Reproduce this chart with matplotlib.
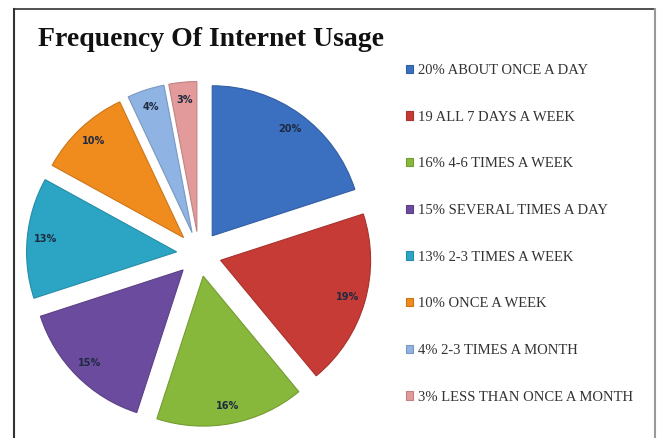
import matplotlib.pyplot as plt
from matplotlib.lines import Line2D
import matplotlib.colors as mcolors

# usage shares (percent), clockwise from 12 o'clock
shares = [20, 19, 16, 15, 13, 10, 4, 3]
legend_labels = [
    "20% ABOUT ONCE A DAY",
    "19 ALL 7 DAYS A WEEK",
    "16% 4-6 TIMES A WEEK",
    "15% SEVERAL TIMES A DAY",
    "13% 2-3 TIMES A WEEK",
    "10% ONCE A WEEK",
    "4% 2-3 TIMES A MONTH",
    "3% LESS THAN ONCE A MONTH",
]
colors = ['#3b6fbf', '#c63b35', '#88b83b', '#6b4b9d',
          '#2ca5c4', '#f08b1e', '#8fb3e2', '#e29a9a']

fig = plt.figure(figsize=(6.58, 4.38), dpi=100)
W, H = 658, 438

# frame around the chart
fig.add_artist(Line2D([14 / W, 14 / W], [0, 1 - 9 / H], color='#333333', lw=1.5))
fig.add_artist(Line2D([14 / W, 655 / W], [1 - 9 / H, 1 - 9 / H], color='#333333', lw=1.2))
fig.add_artist(Line2D([655 / W, 655 / W], [0, 1 - 9 / H], color='#999999', lw=1.5))

fig.text(211 / W, 1 - 40 / H, "Frequency Of Internet Usage", ha='center', va='center',
         fontsize=20, fontweight='bold', family='Liberation Serif', color='#111111')

# pie axes: centre at (199, 254) px, radius 150 px
ax = fig.add_axes([(199 - 180) / W, (H - 254 - 180) / H, 360 / W, 360 / H])
wedges, texts, autotexts = ax.pie(
    shares, colors=colors, startangle=90, counterclock=False,
    explode=[0.15] * len(shares), radius=1.0,
    autopct='%d%%', pctdistance=0.88,
    wedgeprops=dict(linewidth=0.8),
    textprops=dict(fontsize=7, color='#1e2a40', fontweight='bold', family='DejaVu Sans'))
for w, c in zip(wedges, colors):
    w.set_edgecolor(mcolors.to_hex([v * 0.85 for v in mcolors.to_rgb(c)]))
ax.set_xlim(-1.2, 1.2)
ax.set_ylim(-1.2, 1.2)
ax.set_aspect('equal')
ax.axis('off')

fig.legend(wedges, legend_labels, loc='upper left',
           bbox_to_anchor=(406 / W, 1 - 64 / H), frameon=False,
           borderpad=0, borderaxespad=0, labelspacing=2.31,
           handlelength=0.5, handleheight=0.5, handletextpad=0.3,
           prop=dict(family='Liberation Serif', size=10.5), labelcolor='#333333')

fig.savefig('out.png', dpi=100)
